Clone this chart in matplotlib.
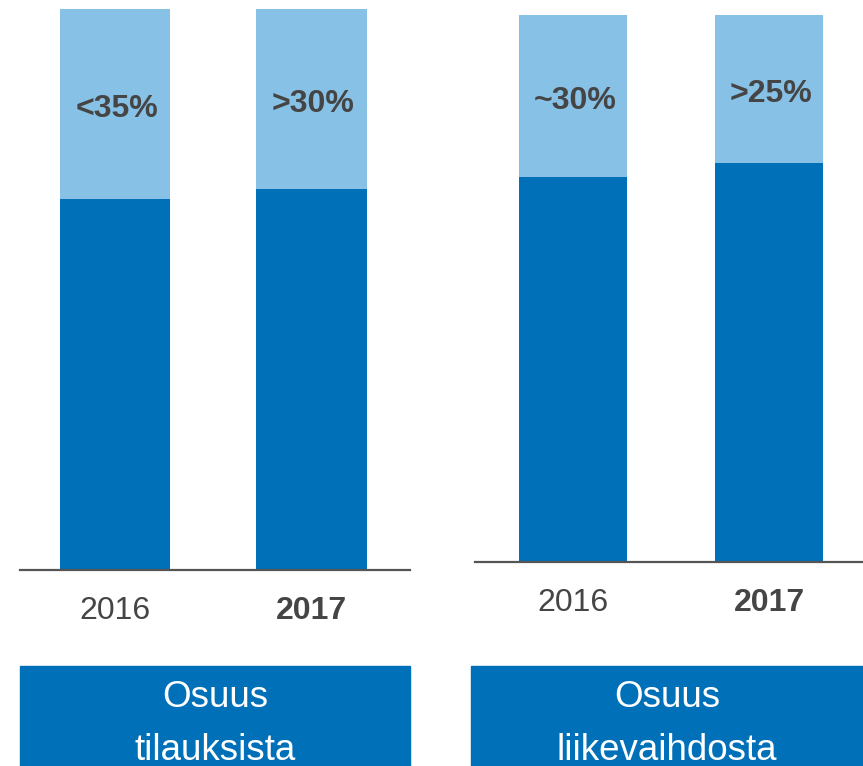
import matplotlib
matplotlib.use("Agg")
import matplotlib.pyplot as plt
from matplotlib.patches import Rectangle

plt.rcParams['font.family'] = ['Liberation Sans', 'DejaVu Sans']

years = ["2016", "2017"]
left_dark = [66.1, 67.9]
left_light = [33.9, 32.1]
left_labels = ["<35%", ">30%"]
right_dark = [70.4, 72.8]
right_light = [29.6, 27.2]
right_labels = ["~30%", ">25%"]
box_titles = ["Osuus\ntilauksista", "Osuus\nliikevaihdosta"]

DARK = "#0070B8"
LIGHT = "#87C1E6"
TXT = "#454545"

W, H = 863, 766
fig = plt.figure(figsize=(W / 100, H / 100), dpi=100)

def px_axes(x0, x1, ytop, ybot):
    return fig.add_axes([x0 / W, 1 - ybot / H, (x1 - x0) / W, (ybot - ytop) / H])

panels = [
    dict(rect=(20, 410, 9, 570), xlim=(-0.483, 1.501), width=0.56,
         dark=left_dark, light=left_light, labels=left_labels, laby=[80.7, 81.6]),
    dict(rect=(475, 863, 14.5, 562), xlim=(-0.5, 1.48), width=0.551,
         dark=right_dark, light=right_light, labels=right_labels, laby=[82.7, 84.0]),
]

for p in panels:
    ax = px_axes(*p["rect"])
    x = list(range(len(years)))
    ax.bar(x, p["dark"], width=p["width"], color=DARK, zorder=2)
    ax.bar(x, p["light"], bottom=p["dark"], width=p["width"], color=LIGHT, zorder=2)
    ax.set_xlim(*p["xlim"])
    ax.set_ylim(0, 100)
    for s in ["top", "right", "left"]:
        ax.spines[s].set_visible(False)
    ax.spines["bottom"].set_color("#555555")
    ax.spines["bottom"].set_linewidth(1.6)
    ax.spines["bottom"].set_zorder(3)
    ax.set_yticks([])
    ax.set_xticks(x)
    ax.set_xticklabels(years, fontsize=23, color=TXT)
    ax.tick_params(axis="x", length=0, pad=19)
    ax.get_xticklabels()[1].set_fontweight("bold")
    for i, lab in enumerate(p["labels"]):
        ax.text(i + 0.01, p["laby"][i], lab, ha="center", va="baseline",
                fontsize=23, fontweight="bold", color=TXT, zorder=4)

# bottom title boxes
boxes = [(20, 410, 215), (471, 863, 667)]
for (x0, x1, xc), title in zip(boxes, box_titles):
    fig.patches.append(Rectangle((x0 / W, 0), (x1 - x0) / W, (766 - 666) / H,
                                 transform=fig.transFigure, color=DARK, zorder=1))
    l1, l2 = title.split("\n")
    fig.text(xc / W, 1 - 707 / H, l1, ha="center", va="baseline",
             fontsize=26.5, color="white", zorder=2)
    fig.text(xc / W, 1 - 760 / H, l2, ha="center", va="baseline",
             fontsize=26.5, color="white", zorder=2)

fig.savefig("out.png", dpi=100)
